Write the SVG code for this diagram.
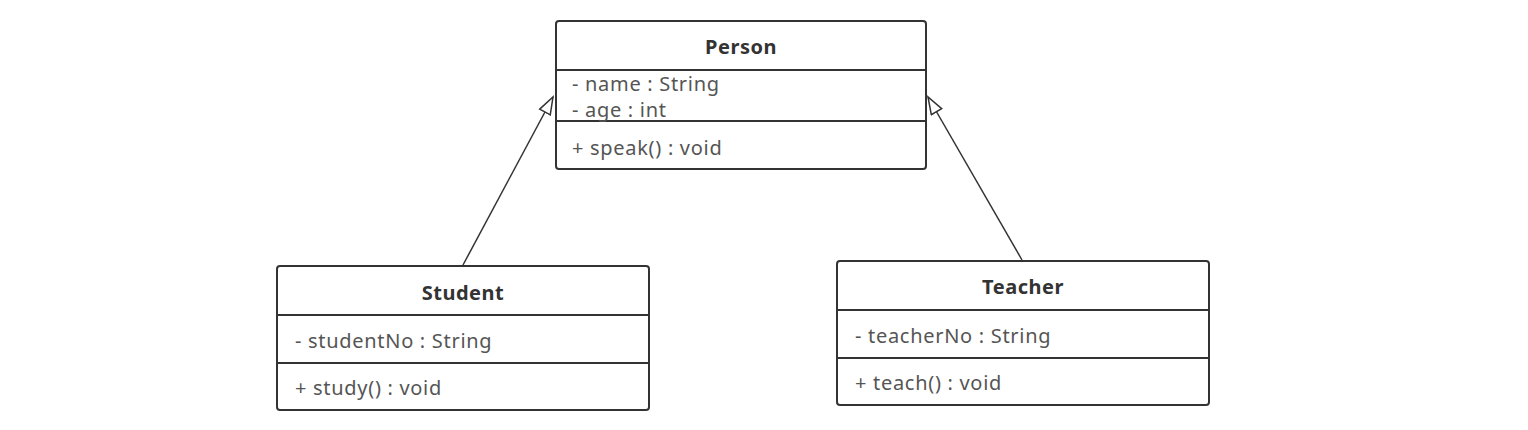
<svg xmlns="http://www.w3.org/2000/svg" width="1528" height="430" viewBox="0 0 1528 430">
<style>
.box{fill:#fff;stroke:#333;stroke-width:2}
.div{stroke:#333;stroke-width:2}
.title{font-family:"Noto Sans","Open Sans",sans-serif;font-weight:bold;font-size:20px;letter-spacing:0.5px;fill:#333;text-anchor:middle}
.txt{font-family:"Noto Sans","Open Sans",sans-serif;font-size:20px;letter-spacing:0.7px;fill:#555}
.conn{stroke:#333;stroke-width:1.5;fill:none}
</style>
<defs>
<marker id="tri" markerWidth="20" markerHeight="16" refX="18" refY="7" orient="auto" markerUnits="userSpaceOnUse">
<path d="M1,1 L18,7 L1,13 Z" fill="#fff" stroke="#333" stroke-width="1.5"/>
</marker>
</defs>
<rect width="1528" height="430" fill="#fff"/>
<g id="connectors">
<line class="conn" x1="463" y1="265" x2="553" y2="97" marker-end="url(#tri)"/>
<line class="conn" x1="1022" y1="260" x2="928" y2="97" marker-end="url(#tri)"/>
</g>
<g id="person">
<rect class="box" x="556" y="21" width="370" height="148" rx="3"/>
<line class="div" x1="556" y1="70" x2="926" y2="70"/>
<line class="div" x1="556" y1="121" x2="926" y2="121"/>
<text class="title" x="741" y="54">Person</text>
<text class="txt" x="572" y="91">- name : String</text>
<text class="txt" x="572" y="117">- age : int</text>
<text class="txt" x="572" y="155">+ speak() : void</text>
</g>
<g id="student">
<rect class="box" x="277" y="266" width="372" height="144" rx="3"/>
<line class="div" x1="277" y1="315" x2="649" y2="315"/>
<line class="div" x1="277" y1="363" x2="649" y2="363"/>
<text class="title" x="463" y="300">Student</text>
<text class="txt" x="295" y="348">- studentNo : String</text>
<text class="txt" x="295" y="395">+ study() : void</text>
</g>
<g id="teacher">
<rect class="box" x="837" y="261" width="372" height="144" rx="3"/>
<line class="div" x1="837" y1="310" x2="1209" y2="310"/>
<line class="div" x1="837" y1="358" x2="1209" y2="358"/>
<text class="title" x="1023" y="294">Teacher</text>
<text class="txt" x="855" y="343">- teacherNo : String</text>
<text class="txt" x="855" y="390">+ teach() : void</text>
</g>
</svg>
